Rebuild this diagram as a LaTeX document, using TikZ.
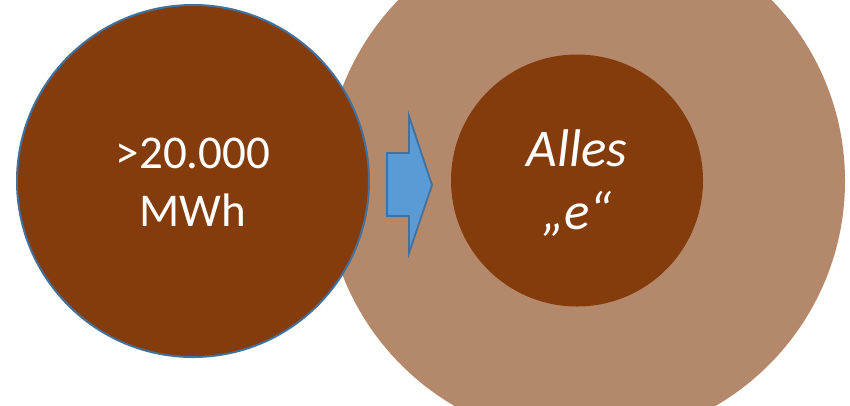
\documentclass[tikz,border=0pt]{standalone}
\usepackage{fontspec}
\setmainfont{Carlito}
\definecolor{darkbrown}{RGB}{132,60,12}
\definecolor{lightbrown}{RGB}{180,137,107}
\definecolor{arrowblue}{RGB}{91,155,213}
\definecolor{edgeblue}{RGB}{65,113,156}
\tikzset{
  disc/.style={circle, inner sep=0pt, outer sep=0pt},
  label47/.style={text=white, align=center, font=\fontsize{47}{57.5}\selectfont},
  label53/.style={text=white, align=center, font=\fontsize{53}{63.5}\selectfont\itshape},
}
\begin{document}
\begin{tikzpicture}[x=1pt,y=-1pt]
\useasboundingbox (0,0) rectangle (850,405);
\clip (0,0) rectangle (850,405);
\fill[white] (0,0) rectangle (850,405);
\node[disc, fill=lightbrown, minimum size=520pt] (outer) at (585,181) {};
\node[disc, fill=darkbrown, minimum size=252pt] (inner) at (577,180.5) {};
\node[disc, fill=darkbrown, draw=edgeblue, line width=2pt, minimum size=352pt] (left) at (193,181) {};
\node[label47] (lefttext) at ([yshift=-1pt]left.center) {>20.000\\MWh};
\node[label53] (righttext) at ([yshift=-2.5pt]inner.center) {Alles\\„e“};
\draw[fill=arrowblue, draw=edgeblue, line width=1.8pt, line join=miter]
  (387,153) -- (409,153) -- (409,116) -- (432,185) -- (409,253) -- (409,216) -- (387,216) -- cycle;
\end{tikzpicture}
\end{document}
